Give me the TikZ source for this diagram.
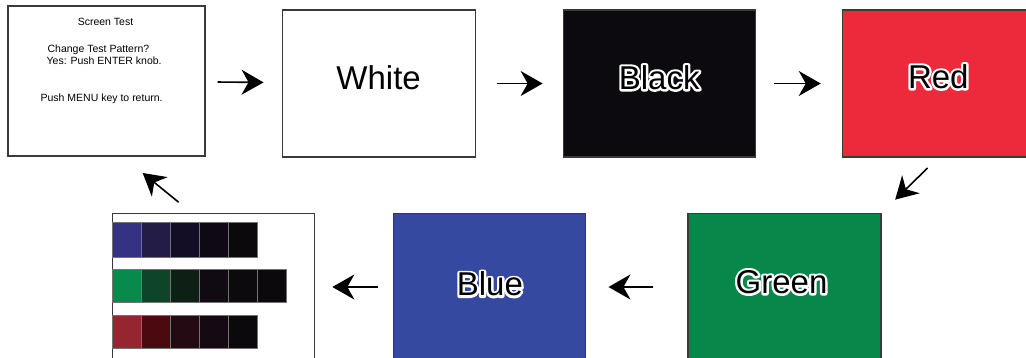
\documentclass[tikz,border=0pt]{standalone}
\usepackage{fontspec}
\setmainfont{Liberation Sans}
\usetikzlibrary{positioning,arrows.meta}

\definecolor{framegrey}{HTML}{3A3A3A}
\definecolor{blackfill}{HTML}{0C0A0E}
\definecolor{redfill}{HTML}{EC2A3B}
\definecolor{greenfill}{HTML}{07884A}
\definecolor{bluefill}{HTML}{3549A0}
% grey-scale steps of the colour bars
\definecolor{bandBa}{HTML}{363283}
\definecolor{bandBb}{HTML}{221C47}
\definecolor{bandBc}{HTML}{130D25}
\definecolor{bandBd}{HTML}{0F0916}
\definecolor{bandBe}{HTML}{0C090D}
\definecolor{bandGa}{HTML}{078A4B}
\definecolor{bandGb}{HTML}{0E4428}
\definecolor{bandGc}{HTML}{0E2016}
\definecolor{bandGd}{HTML}{100B12}
\definecolor{bandGe}{HTML}{0C0A0D}
\definecolor{bandGf}{HTML}{0B090C}
\definecolor{bandRa}{HTML}{952630}
\definecolor{bandRb}{HTML}{4A0A10}
\definecolor{bandRc}{HTML}{240A12}
\definecolor{bandRd}{HTML}{150A13}
\definecolor{bandRe}{HTML}{0C090D}

% black text with a white rim (stroked copy under the filled one)
\newcommand{\halo}[1]{%
  \rlap{\special{pdf:code q 1 Tr 4.6 w 1 j 1 1 1 RG}#1\special{pdf:code Q}}#1}

\begin{document}
\begin{tikzpicture}[x=1pt, y=-1pt,
    screenbox/.style={draw=framegrey, line width=1.1pt, minimum width=192pt, minimum height=147pt, inner sep=0pt},
    colourtext/.style={font=\fontsize{33}{39}\selectfont, inner sep=0pt},
    menutext/.style={font=\fontsize{10.5}{12}\selectfont, inner sep=0pt},
    flow/.style={-{Stealth[length=22pt, width=25pt, inset=7pt]}, line width=1.6pt},
    swatch/.style={draw=black!55, line width=0.3pt}]
    \path[use as bounding box, fill=white] (0,0) rectangle (1026,358);

    % top row
    \node[screenbox, minimum width=197pt, minimum height=150pt] (menu) at (106.5,81) {};
    \node[screenbox, minimum width=193pt, right=76pt of menu, yshift=-2.5pt] (white) {};
    \node[screenbox, fill=blackfill, right=87pt of white] (black) {};
    \node[screenbox, fill=redfill, right=86pt of black] (red) {};

    % bottom row
    \node[screenbox, minimum width=193pt, fill=greenfill] (green) at (784.5,287) {};
    \node[screenbox, fill=bluefill, left=101pt of green] (blue) {};
    \node[screenbox, minimum width=202pt, left=78pt of blue] (bars) {};

    \node[menutext, anchor=base] (menutitle) at ([shift={(-1,20)}]menu.north) {Screen Test};
    \node[menutext, anchor=base west] (menuask) at ([shift={(40,47)}]menu.north west) {Change Test Pattern?};
    \node[menutext, anchor=base west] (menuyes) at ([shift={(39,59)}]menu.north west) {Yes: Push ENTER knob.};
    \node[menutext, anchor=base west] (menuback) at ([shift={(33,96)}]menu.north west) {Push MENU key to return.};

    \node[colourtext] (whitetext) at ([yshift=5.5pt]white.center) {White};
    \node[colourtext] (blacktext) at ([yshift=6pt]black.center) {\halo{Black}};
    \node[colourtext] (redtext) at ([yshift=7pt]red.center) {\halo{Red}};
    \node[colourtext] (greentext) at ([shift={(-3,-5)}]green.center) {\halo{Green}};
    \node[colourtext] (bluetext) at ([yshift=3pt]blue.center) {\halo{Blue}};

    \begin{scope}[shift={(bars.north west)}]
        \foreach \c [count=\i from 0] in {bandBa,bandBb,bandBc,bandBd,bandBe}
            \filldraw[swatch, fill=\c] (\i*29,9) rectangle (\i*29+29,44);
        \foreach \c [count=\i from 0] in {bandGa,bandGb,bandGc,bandGd,bandGe,bandGf}
            \filldraw[swatch, fill=\c] (\i*29,56) rectangle (\i*29+29,89);
        \foreach \c [count=\i from 0] in {bandRa,bandRb,bandRc,bandRd,bandRe}
            \filldraw[swatch, fill=\c] (\i*29,102) rectangle (\i*29+29,135);
    \end{scope}

    \draw[flow, shorten <=12pt, shorten >=18pt] (menu) -- (white);
    \draw[flow, shorten <=21pt, shorten >=20pt] (white) -- (black);
    \draw[flow, shorten <=18pt, shorten >=21pt] (black) -- (red);
    \draw[flow, shorten <=15pt, shorten >=19pt] (red.south) -- (green.north east);
    \draw[flow, shorten <=34pt, shorten >=22pt] (green) -- (blue);
    \draw[flow, shorten <=15pt, shorten >=17pt] (blue) -- (bars);
    \draw[flow, shorten <=17pt, shorten >=26pt] ([xshift=-22pt]bars.north) -- ([xshift=16pt]menu.south);
\end{tikzpicture}
\end{document}
